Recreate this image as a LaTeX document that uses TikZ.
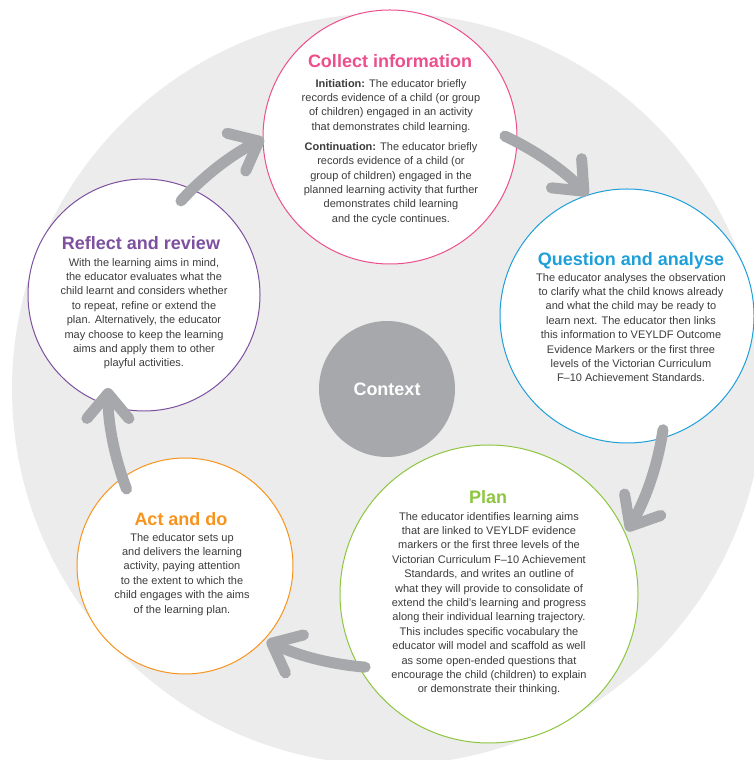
\documentclass[tikz,border=0pt]{standalone}
\usepackage{fontspec}
\setmainfont{Liberation Sans}
\usetikzlibrary{arrows.meta}
\definecolor{bg}{HTML}{ECECEC}
\definecolor{agray}{HTML}{A7A8AB}
\definecolor{cpink}{HTML}{EC4F8C}
\definecolor{cblue}{HTML}{1E9FD9}
\definecolor{cgreen}{HTML}{8DC63F}
\definecolor{cpurple}{HTML}{7D50A0}
\definecolor{corange}{HTML}{F7941D}
\definecolor{btext}{HTML}{3C3C3C}
\begin{document}
\begin{tikzpicture}[x=1pt,y=1pt,
  stage/.style={circle, draw, line width=1pt, fill=white, inner sep=0pt},
  ttl/.style={anchor=base, font=\fontsize{18}{20}\selectfont\bfseries, inner sep=0pt},
  body/.style={anchor=north, align=center, font=\fontsize{11}{14.4}\selectfont, text=btext, inner sep=0pt},
  flow/.style={draw=agray, line width=11pt, line cap=round, -{Straight Barb[length=25pt,width=42pt,round]}}]
\useasboundingbox (0,0) rectangle (754,760);
\clip (0,0) rectangle (754,760);
\fill[bg] (388,371) circle[radius=376];
\node[circle, fill=agray, minimum size=136pt, inner sep=0pt, text=white,
      font=\fontsize{18}{20}\selectfont\bfseries] (ctx) at (387,371) {Context};
\node[stage, draw=cpink, minimum size=254pt] (collect) at (390,623) {};
\node[stage, draw=cblue, minimum size=254pt] (question) at (627,444) {};
\node[stage, draw=cgreen, minimum size=298pt] (plan) at (489,166) {};
\node[stage, draw=corange, minimum size=216pt] (act) at (185,194) {};
\node[stage, draw=cpurple, minimum size=232pt] (reflect) at (144,465) {};
% arrows
\draw[flow] ([shift={(65:279)}]ctx.center) arc[start angle=65, end angle=44, radius=279];
\draw[flow] ([shift={(-8.4:279)}]ctx.center) arc[start angle=-8.4, end angle=-30.6, radius=279];
\draw[flow] ([shift={(-94.5:279)}]ctx.center) arc[start angle=-94.5, end angle=-115.5, radius=279];
\draw[flow] ([shift={(-159:279)}]ctx.center) arc[start angle=-159, end angle=-180.2, radius=279];
\draw[flow] ([shift={(137.6:279)}]ctx.center) arc[start angle=137.6, end angle=116.2, radius=279];
% titles
\node[ttl, text=cpink] (collectT) at (390,692.5) {Collect information};
\node[ttl, text=cblue] (questionT) at (631,494.5) {Question and analyse};
\node[ttl, text=cgreen] (planT) at (488,256.5) {Plan};
\node[ttl, text=cpurple] (reflectT) at (141,510.5) {Reflect and review};
\node[ttl, text=corange] (actT) at (181,234.5) {Act and do};
% bodies
\node[body] (collectB) at (391,681) {\textbf{Initiation:} The educator briefly\\
records evidence of a child (or group\\
of children) engaged in an activity\\
that demonstrates child learning.\\[5.6pt]
\textbf{Continuation:} The educator briefly\\
records evidence of a child (or\\
group of children) engaged in the\\
planned learning activity that further\\
demonstrates child learning\\
and the cycle continues.};
\node[body] (questionB) at (631,487) {The educator analyses the observation\\
to clarify what the child knows already\\
and what the child may be ready to\\
learn next. The educator then links\\
this information to VEYLDF Outcome\\
Evidence Markers or the first three\\
levels of the Victorian Curriculum\\
F–10 Achievement Standards.};
\node[body] (planB) at (489,248) {The educator identifies learning aims\\
that are linked to VEYLDF evidence\\
markers or the first three levels of the\\
Victorian Curriculum F–10 Achievement\\
Standards, and writes an outline of\\
what they will provide to consolidate of\\
extend the child’s learning and progress\\
along their individual learning trajectory.\\
This includes specific vocabulary the\\
educator will model and scaffold as well\\
as some open-ended questions that\\
encourage the child (children) to explain\\
or demonstrate their thinking.};
\node[body] (reflectB) at (144,502) {With the learning aims in mind,\\
the educator evaluates what the\\
child learnt and considers whether\\
to repeat, refine or extend the\\
plan. Alternatively, the educator\\
may choose to keep the learning\\
aims and apply them to other\\
playful activities.};
\node[body] (actB) at (182,227) {The educator sets up\\
and delivers the learning\\
activity, paying attention\\
to the extent to which the\\
child engages with the aims\\
of the learning plan.};
\end{tikzpicture}
\end{document}
